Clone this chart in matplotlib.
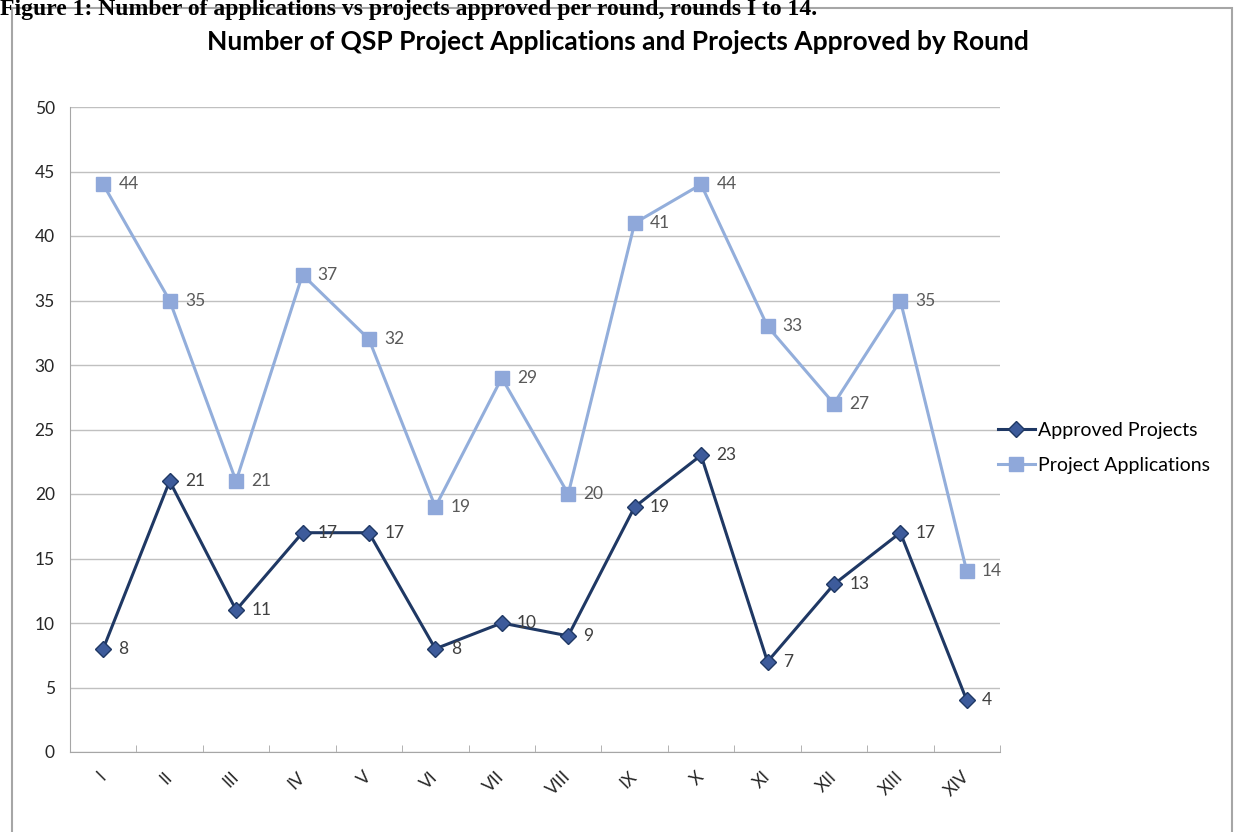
import numpy as np
import matplotlib.pyplot as plt
from matplotlib.patches import Rectangle

rounds = ['I', 'II', 'III', 'IV', 'V', 'VI', 'VII', 'VIII', 'IX', 'X', 'XI', 'XII', 'XIII', 'XIV']
approved = [8, 21, 11, 17, 17, 8, 10, 9, 19, 23, 7, 13, 17, 4]
applications = [44, 35, 21, 37, 32, 19, 29, 20, 41, 44, 33, 27, 35, 14]

title = 'Number of QSP Project Applications and Projects Approved by Round'
caption = 'Figure 1: Number of applications vs projects approved per round, rounds I to 14.'

plt.rcParams['font.family'] = ['Lato', 'DejaVu Sans']

W, H = 1235, 832
fig = plt.figure(figsize=(W / 100, H / 100), dpi=100)
ax = fig.add_axes([70 / W, 1 - 752 / H, 930 / W, 645 / H])

x = np.arange(len(rounds))
ax.plot(x, approved, color='#1F3864', lw=2.2, marker='D', ms=8.5,
        mfc='#3D5B9B', mec='#1F3864', mew=1, label='Approved Projects', zorder=3)
ax.plot(x, applications, color='#93AEDB', lw=2.2, marker='s', ms=10,
        mfc='#8FA8DA', mec='#8FA8DA', label='Project Applications', zorder=3)

for xi, v in zip(x, approved):
    ax.annotate(str(v), (xi, v), xytext=(11, 0), textcoords='offset points',
                va='center', ha='left', fontsize=12.5, color='#404040')
for xi, v in zip(x, applications):
    ax.annotate(str(v), (xi, v), xytext=(11, 0), textcoords='offset points',
                va='center', ha='left', fontsize=12.5, color='#595959')

ax.set_xlim(-0.5, len(rounds) - 0.5)
ax.set_ylim(0, 50)
ax.set_yticks(range(0, 51, 5))
ax.yaxis.grid(True, color='#C0C0C0', lw=1)
ax.set_axisbelow(True)
ax.tick_params(axis='y', length=0, pad=11, labelsize=12.5, labelcolor='#262626')

ax.set_xticks(x)
ax.set_xticklabels(rounds, rotation=45, ha='right', va='center', rotation_mode='anchor')
ax.tick_params(axis='x', which='major', length=0, pad=16, labelsize=12.5, labelcolor='#262626')
ax.set_xticks(np.arange(-0.5, len(rounds)), minor=True)
ax.tick_params(axis='x', which='minor', direction='in', length=5, color='#A6A6A6')

for s in ['top', 'right']:
    ax.spines[s].set_visible(False)
for s in ['left', 'bottom']:
    ax.spines[s].set_color('#A6A6A6')

ax.legend(loc='center left', bbox_to_anchor=(998 / W, 1 - 448 / H),
          bbox_transform=fig.transFigure, frameon=False, fontsize=14,
          handlelength=1.9, handletextpad=0.15, labelspacing=0.9, borderpad=0, borderaxespad=0)

fig.text(0.5, 1 - 42 / H, title, ha='center', va='center', fontsize=19, weight='bold')
fig.text(0.0, 1 - 15 / H, caption, ha='left', va='baseline', fontsize=17,
         family='Liberation Serif', weight='bold')

fig.add_artist(Rectangle((12 / W, -0.02), 1220 / W, 1 - 8 / H + 0.02, transform=fig.transFigure,
                         fill=False, ec='#A6A6A6', lw=1.5))

fig.savefig('out.png', dpi=100)
